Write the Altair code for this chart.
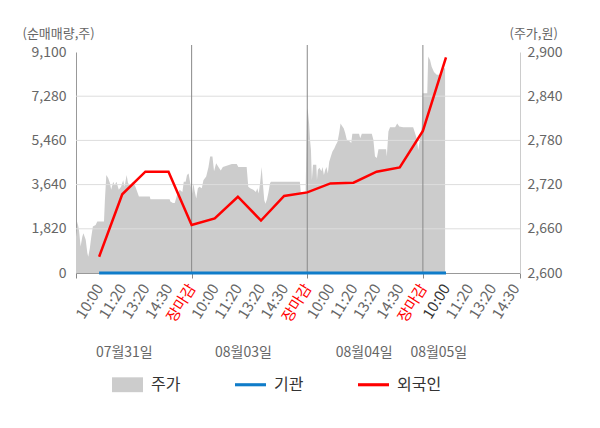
import json
import altair as alt
import pandas as pd

# ---------------- data ----------------
# x axis: 5 slots per trading day (slot 5, 10, 15 = close of day)
tick_labels = ["10:00", "11:20", "13:20", "14:30", "장마감",
               "10:00", "11:20", "13:20", "14:30", "장마감",
               "10:00", "11:20", "13:20", "14:30", "장마감",
               "10:00", "11:20", "13:20", "14:30"]
tick_pos = list(range(1, 20))
x_max = 19.2
day_bounds = [5, 10, 15]
date_labels = ["07월31일", "08월03일", "08월04일", "08월05일"]
date_pos = [2.09, 7.24, 12.46, 15.69]

vol_ticks = [0, 1820, 3640, 5460, 7280, 9100]
price_ticks = [2600, 2660, 2720, 2780, 2840, 2900]

# net buying volume (shares) at each slot
flow_x = list(range(1, 17))
foreign = [670, 3240, 4170, 4170, 1980, 2250, 3140, 2160,
           3170, 3320, 3690, 3720, 4170, 4350, 5850, 8880]
institution = [0, 0, 0, 0, 0, 0, 0, 0, 0, 0, 0, 0, 0, 0, 0, 0]

# share price (won), intraday
price_x = [0.00, 0.06, 0.13, 0.20, 0.27, 0.32, 0.42, 0.49, 0.53, 0.60,
           0.66, 0.73, 0.85, 0.92, 1.21, 1.25, 1.31, 1.39, 1.47, 1.52,
           1.61, 1.67, 1.75, 1.85, 1.95, 2.04, 2.10, 2.19, 2.25, 2.36,
           2.47, 2.57, 2.72, 3.19, 3.22, 4.05, 4.08, 4.19, 4.27, 4.37,
           4.48, 4.60, 4.66, 4.74, 4.80, 4.87, 4.94, 5.02, 5.08, 5.12,
           5.20, 5.27, 5.34, 5.44, 5.51, 5.63, 5.73, 5.80, 5.90, 5.97,
           6.06, 6.16, 6.26, 6.35, 6.74, 6.95, 7.02, 7.38, 7.45, 7.53,
           7.67, 7.78, 7.84, 7.90, 7.96, 8.03, 8.07, 8.14, 8.19, 8.26,
           8.32, 8.39, 8.43, 9.68, 9.72, 9.93, 9.99, 10.03, 10.08, 10.12,
           10.16, 10.20, 10.25, 10.39, 10.42, 10.46, 10.53, 10.61, 10.66, 10.72,
           10.78, 10.83, 10.89, 10.95, 11.02, 11.09, 11.17, 11.24, 11.31, 11.38,
           11.44, 11.50, 11.58, 11.64, 11.71, 11.86, 11.90, 11.95, 12.24, 12.29,
           12.36, 12.79, 12.86, 12.93, 13.01, 13.08, 13.41, 13.44, 13.51, 13.58,
           13.80, 13.89, 13.98, 14.15, 14.58, 14.66, 14.73, 14.80, 14.87, 14.95,
           14.99, 15.19, 15.23, 15.31, 15.38, 15.48, 15.60, 15.74, 15.81, 15.88,
           15.96]
price = [2649, 2670, 2658, 2636, 2649, 2654, 2645, 2627, 2622, 2634,
         2649, 2663, 2665, 2670, 2670, 2699, 2733, 2729, 2722, 2713,
         2724, 2719, 2724, 2713, 2717, 2726, 2717, 2733, 2722, 2719,
         2724, 2717, 2704, 2704, 2700, 2700, 2697, 2695, 2695, 2706,
         2713, 2710, 2724, 2724, 2733, 2735, 2722, 2708, 2722, 2713,
         2701, 2715, 2717, 2715, 2726, 2731, 2744, 2758, 2758, 2738,
         2749, 2744, 2739, 2744, 2748, 2748, 2744, 2744, 2717, 2715,
         2713, 2710, 2715, 2708, 2722, 2744, 2726, 2699, 2694, 2700,
         2709, 2722, 2724, 2724, 2710, 2710, 2824, 2819, 2803, 2781,
         2767, 2726, 2747, 2747, 2726, 2740, 2743, 2738, 2744, 2733,
         2740, 2744, 2735, 2751, 2758, 2765, 2769, 2774, 2778, 2790,
         2803, 2800, 2796, 2790, 2781, 2778, 2776, 2789, 2789, 2783,
         2789, 2789, 2781, 2758, 2756, 2768, 2768, 2758, 2792, 2798,
         2798, 2803, 2799, 2798, 2798, 2790, 2783, 2767, 2781, 2799,
         2844, 2844, 2894, 2889, 2880, 2873, 2869, 2869, 2873, 2878,
         2878]

legend_series = ["주가", "기관", "외국인"]

# ---------------- styling ----------------
W, H = 444, 221
FONT = "Noto Sans CJK KR"
GRAY_TXT = "#666666"
legend_colors = ["#cccccc", "#0f7cc9", "#ff0000"]
legend_shapes = ["M-1,-0.48H1V0.48H-1Z", "M-1,-0.1H1V0.1H-1Z", "M-1,-0.1H1V0.1H-1Z"]

price_df = pd.DataFrame({"x": price_x, "price": price})
flow_df = pd.DataFrame({"x": flow_x, "foreign": foreign, "institution": institution})
grid_df = pd.DataFrame({"v": vol_ticks[1:-1]})
day_df = pd.DataFrame({"x": day_bounds})
date_df = pd.DataFrame({"x": date_pos, "label": date_labels})
legend_df = pd.DataFrame({"series": legend_series})

label_expr = (
    "datum.value >= 1 && datum.value <= 19 && datum.value == floor(datum.value) ? "
    + json.dumps(tick_labels, ensure_ascii=False)
    + "[datum.value - 1] : ''"
)

x_scale = alt.Scale(domain=[0, x_max], nice=False, zero=False)
x_axis = alt.Axis(
    values=[0] + tick_pos + [x_max],
    labelExpr=label_expr,
    labelAngle=-58,
    labelFontSize=15,
    labelFont=FONT,
    labelPadding=7,
    labelOverlap=False,
    labelFlush=False,
    labelColor={
        "condition": [
            {"test": "datum.value == 5 || datum.value == 10 || datum.value == 15", "value": "#ff0000"},
            {"test": "datum.value == 16", "value": "#333333"},
        ],
        "value": GRAY_TXT,
    },
    tickOpacity={
        "condition": {
            "test": "datum.value == 0 || datum.value == 5 || datum.value == 10 || datum.value == 15 || datum.value > 19",
            "value": 1,
        },
        "value": 0,
    },
    tickSize=5,
    tickColor="#888888",
    domainColor="#999999",
    grid=False,
    title=None,
)

vol_scale = alt.Scale(domain=[0, 9100], nice=False, zero=True)
vol_axis = alt.Axis(
    orient="left", values=vol_ticks, format=",d", grid=False, ticks=False,
    domainColor="#999999", labelColor=GRAY_TXT, labelFontSize=14, labelFont=FONT,
    labelPadding=10,
    title="(순매매량,주)", titleAngle=0, titleX=-54, titleY=-19,
    titleAlign="left", titleBaseline="middle", titleFontWeight="normal",
    titleFontSize=13, titleColor=GRAY_TXT, titleFont=FONT,
)
price_scale = alt.Scale(domain=[2600, 2900], nice=False, zero=False)
price_axis = alt.Axis(
    orient="right", values=price_ticks, format=",d", grid=False, ticks=False,
    domainColor="#cccccc", labelColor=GRAY_TXT, labelFontSize=14, labelFont=FONT,
    labelPadding=7,
    title="(주가,원)", titleAngle=0, titleX=-11, titleY=-19,
    titleAlign="left", titleBaseline="middle", titleFontWeight="normal",
    titleFontSize=13, titleColor=GRAY_TXT, titleFont=FONT,
)


def X(field):
    return alt.X(field, scale=x_scale, axis=x_axis)


def YV(field):
    return alt.Y(field, scale=vol_scale, axis=vol_axis)


area = alt.Chart(price_df).mark_area(color="#cccccc", interpolate="linear").encode(
    x=X("x:Q"),
    y=alt.Y("price:Q", scale=price_scale, axis=price_axis),
    y2=alt.datum(2600),
)

grid = alt.Chart(grid_df).mark_rule(color="#dddddd", strokeWidth=1).encode(
    y=YV("v:Q"),
    x=alt.value(0),
    x2=alt.value(W),
)

days = alt.Chart(day_df).mark_rule(color="#888888", strokeWidth=1).encode(
    x=X("x:Q"),
    y=alt.value(-7),
    y2=alt.value(H),
)

inst_line = alt.Chart(flow_df).mark_line(color="#0f7cc9", strokeWidth=3).encode(
    x=X("x:Q"),
    y=YV("institution:Q"),
)

foreign_line = alt.Chart(flow_df).mark_line(color="#ff0000", strokeWidth=2.5).encode(
    x=X("x:Q"),
    y=YV("foreign:Q"),
)

dates = alt.Chart(date_df).mark_text(
    fontSize=14, font=FONT, color=GRAY_TXT, align="center", baseline="middle"
).encode(
    x=X("x:Q"),
    y=alt.value(301),
    text="label:N",
)

leg = dict(
    title=None, orient="none", legendX=36, legendY=317, direction="horizontal",
    symbolSize=961, symbolOpacity=1, symbolStrokeWidth=0,
    labelFontSize=16, labelColor="#333333", labelFont=FONT, labelOffset=8,
    columnPadding=54, padding=0,
)
legend_pts = alt.Chart(legend_df).mark_point(filled=True, opacity=0).encode(
    color=alt.Color("series:N", scale=alt.Scale(domain=legend_series, range=legend_colors),
                    legend=alt.Legend(**leg)),
    shape=alt.Shape("series:N", scale=alt.Scale(domain=legend_series, range=legend_shapes),
                    legend=alt.Legend(**leg)),
)

vol_layer = alt.layer(grid, days, inst_line, foreign_line, dates, legend_pts)

chart = (
    alt.layer(area, vol_layer)
    .resolve_scale(y="independent")
    .properties(
        width=W, height=H, autosize="none",
        padding={"left": 68, "top": 44, "right": 72, "bottom": 147},
    )
    .configure(font=FONT)
    .configure_view(fill="#f4f4f4", stroke=None)
)

chart.save("out.html", embed_options={"renderer": "svg", "actions": False})
